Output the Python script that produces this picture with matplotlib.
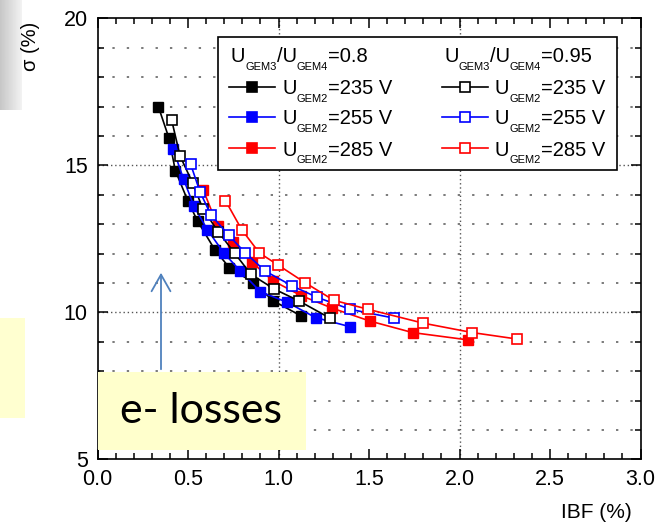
import matplotlib
matplotlib.use("Agg")
import matplotlib.pyplot as plt
import numpy as np
from matplotlib.lines import Line2D
from matplotlib.patches import Rectangle, FancyArrowPatch
from matplotlib.transforms import Affine2D
from matplotlib.ticker import MultipleLocator, FormatStrFormatter

plt.rcParams['font.family'] = ['Liberation Sans', 'DejaVu Sans']

# sigma (%) vs IBF (%), U_GEM3/U_GEM4 = 0.8 (filled) and 0.95 (open)
ibf_235_08 = [0.336, 0.395, 0.430, 0.500, 0.553, 0.649, 0.728, 0.861, 0.971, 1.124]
sig_235_08 = [17.0, 15.92, 14.82, 13.78, 13.10, 12.12, 11.52, 11.01, 10.39, 9.88]
ibf_255_08 = [0.419, 0.476, 0.532, 0.607, 0.699, 0.790, 0.900, 1.048, 1.205, 1.395]
sig_255_08 = [15.54, 14.52, 13.62, 12.81, 12.01, 11.40, 10.70, 10.34, 9.82, 9.51]
ibf_285_08 = [0.585, 0.663, 0.750, 0.853, 0.970, 1.124, 1.297, 1.506, 1.741, 2.049]
sig_285_08 = [14.15, 12.95, 12.38, 11.70, 11.07, 10.57, 10.14, 9.70, 9.31, 9.06]

ibf_235_095 = [0.410, 0.456, 0.526, 0.583, 0.668, 0.758, 0.848, 0.977, 1.115, 1.285]
sig_235_095 = [16.53, 15.32, 14.39, 13.51, 12.73, 12.01, 11.29, 10.79, 10.38, 9.80]
ibf_255_095 = [0.515, 0.566, 0.626, 0.725, 0.817, 0.927, 1.075, 1.213, 1.397, 1.640]
sig_255_095 = [15.03, 14.10, 13.32, 12.62, 12.02, 11.40, 10.90, 10.51, 10.10, 9.80]
ibf_285_095 = [0.707, 0.797, 0.894, 0.997, 1.146, 1.305, 1.496, 1.800, 2.071, 2.319]
sig_285_095 = [13.80, 12.81, 12.02, 11.61, 11.01, 10.41, 10.10, 9.63, 9.31, 9.09]

voltages = ['235', '255', '285']
colors = ['black', '#0000ff', '#ff0000']
ratios = ['0.8', '0.95']

W, H = 669, 525
fig = plt.figure(figsize=(W / 100, H / 100), dpi=100)
# pixel coordinates, origin top-left, like the reference picture
px = Affine2D().scale(1 / W, -1 / H).translate(0, 1) + fig.transFigure
renderer = fig.canvas.get_renderer()

ax = fig.add_axes([97.5 / W, 1 - 459.3 / H, 543 / W, 441 / H])
ax.set_xlim(0, 3)
ax.set_ylim(5, 20)

# dotted grid: major lines dense, minor y lines sparse
for y in range(6, 20):
    if y % 5 == 0:
        ax.axhline(y, color='#555555', lw=1.0, ls=(0, (1, 2)), zorder=1)
    else:
        ax.axhline(y, color='#7a7a7a', lw=1.4, ls=(0, (1.2, 6.2)), zorder=1)
for x in [1.0, 2.0]:
    ax.axvline(x, color='#555555', lw=1.0, ls=(0, (1, 2)), zorder=1)

filled = [(ibf_235_08, sig_235_08), (ibf_255_08, sig_255_08), (ibf_285_08, sig_285_08)]
opened = [(ibf_235_095, sig_235_095), (ibf_255_095, sig_255_095), (ibf_285_095, sig_285_095)]

for (xs, ys), c in zip(filled, colors):
    ax.plot(xs, ys, '-s', color=c, lw=1.2, ms=6.8, mfc=c, mec=c, zorder=3)
for (xs, ys), c in zip(opened, colors):
    ax.plot(xs, ys, '-s', color=c, lw=1.2, ms=6.8, mfc='white', mec=c, mew=1.2, zorder=4)

ax.xaxis.set_major_locator(MultipleLocator(0.5))
ax.xaxis.set_minor_locator(MultipleLocator(0.1))
ax.yaxis.set_major_locator(MultipleLocator(5))
ax.yaxis.set_minor_locator(MultipleLocator(1))
ax.xaxis.set_major_formatter(FormatStrFormatter('%.1f'))
ax.tick_params(which='both', direction='in', top=True, right=True, width=1.1,
               labelsize=15.5)
ax.tick_params(which='major', length=7, pad=7)
ax.tick_params(which='minor', length=4)
for s in ax.spines.values():
    s.set_linewidth(1.2)

fig.text(596, 513, 'IBF (%)', transform=px, ha='center', va='center', fontsize=15)
fig.text(30, 46, 'σ (%)', transform=px, ha='center', va='center', fontsize=14.5,
         rotation=90)


def sub_label(x, y, parts, size=14.5, sub_size=8, drop=7.7):
    # Origin-style label: parts alternate normal / subscript, y is the baseline
    for s, is_sub in parts:
        t = fig.text(x, y + (drop if is_sub else 0), s, transform=px, va='baseline',
                     fontsize=sub_size if is_sub else size, zorder=6)
        x += t.get_window_extent(renderer).width


# legend, drawn by hand to get the two header rows
fig.add_artist(Rectangle((218, 37), 399, 133, transform=px, fc='white', ec='black',
                         lw=1.2, zorder=5))
col_x = [229, 442]
row_y = [87, 117, 148]
for j, (xc, r) in enumerate(zip(col_x, ratios)):
    sub_label(xc + 2, 62.5, [('U', False), ('GEM3', True), ('/U', False),
                             ('GEM4', True), ('=' + r, False)])
    for i, (v, c) in enumerate(zip(voltages, colors)):
        fc = c if j == 0 else 'white'
        fig.add_artist(Line2D([xc, xc + 46], [row_y[i], row_y[i]], transform=px,
                              color=c, lw=1.2, zorder=6))
        fig.add_artist(Line2D([xc + 23], [row_y[i]], transform=px, marker='s',
                              ms=6.8, mfc=fc, mec=c, mew=1.2, zorder=7))
        sub_label(xc + 53, row_y[i] + 7.5, [('U', False), ('GEM2', True),
                                            ('=' + v + ' V', False)])

# slide decorations around the chart
grad = fig.add_axes([0, 1 - 110 / H, 22 / W, 110 / H])
grad.imshow(np.linspace(0.78, 0.95, 50)[None, :], cmap='gray', vmin=0, vmax=1,
            aspect='auto')
grad.axis('off')
fig.add_artist(Rectangle((0, 318), 25, 100, transform=px, fc='#ffffd0', ec='none'))
fig.add_artist(FancyArrowPatch((161, 372), (161, 270), transform=px,
                               arrowstyle='->,head_length=0.6,head_width=0.34',
                               mutation_scale=20, color='#4f81bd', lw=1.3, zorder=5))
fig.add_artist(Rectangle((98, 372), 208, 78, transform=px, fc='#ffffcc', ec='none',
                         zorder=5))
fig.text(201, 411, 'e- losses', transform=px, ha='center', va='center',
         fontsize=31, family=['Lato', 'DejaVu Sans'], zorder=6)

fig.savefig('out.png', dpi=100)
